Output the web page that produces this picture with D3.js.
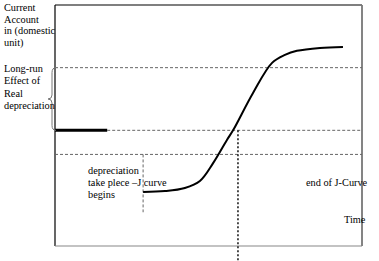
<!DOCTYPE html>
<html>
<head>
<meta charset="utf-8">
<script src="https://cdn.jsdelivr.net/npm/d3@7"></script>
<style>
  body { margin: 0; background: #fff; }
</style>
</head>
<body>
<div id="chart"></div>
<script>
// time (abstract units) and current account (abstract units) along the J-curve
var curveTime  = [2.87, 3.58, 4.23, 4.72, 5.15, 5.60, 5.80, 6.45, 7.07, 7.49, 7.88, 8.63, 9.38];
var curveValue = [-2.56, -2.52, -2.39, -2.10, -1.36, -0.40, 0.0, 1.55, 2.80, 3.13, 3.30, 3.42, 3.46];

// reference levels and times
var initialLevel = 0;      // current account before depreciation
var longRunLevel = 2.6;    // long run level
var lowLevel = -1.0;       // lower dashed guide
var initialEnd = 1.7;      // end of the thick initial segment
var deprTime = 2.87;       // depreciation takes place
var crossTime = 5.96;      // curve returns to initial level

var yLabelLines = ["Current", "Account", "in (domestic", "unit)"];
var braceLines = ["Long-run", "Effect of", "Real", "depreciation"];
var deprLines = ["depreciation", "take plece \u2013J curve", "begins"];

var W = 379, H = 261;
var svg = d3.select("#chart").append("svg")
    .attr("width", W)
    .attr("height", H)
    .attr("font-family", "'Liberation Serif', 'DejaVu Serif', serif")
    .attr("font-size", "10.3px");

var x = d3.scaleLinear().domain([0, 10]).range([55, 362]);
var y = d3.scaleLinear().domain([-4.8, 5.2]).range([246, 5]);

// frame
svg.append("line")
    .attr("x1", x(0)).attr("x2", x(10)).attr("y1", y(5.2)).attr("y2", y(5.2))
    .attr("stroke", "#000").attr("stroke-width", 1.2);
svg.append("line")
    .attr("x1", x(0)).attr("x2", x(0)).attr("y1", y(5.2)).attr("y2", y(-4.8))
    .attr("stroke", "#000").attr("stroke-width", 1.2);
svg.append("line")
    .attr("x1", x(10)).attr("x2", x(10)).attr("y1", y(5.2)).attr("y2", y(-4.8))
    .attr("stroke", "#777").attr("stroke-width", 1.8);
svg.append("line")
    .attr("x1", x(0)).attr("x2", x(10)).attr("y1", y(-4.8)).attr("y2", y(-4.8))
    .attr("stroke", "#888").attr("stroke-width", 1.2);

// dashed guides
var dash = "3,2";
svg.append("line")
    .attr("x1", x(0)).attr("x2", x(10)).attr("y1", y(longRunLevel)).attr("y2", y(longRunLevel))
    .attr("stroke", "#666").attr("stroke-dasharray", dash);
svg.append("line")
    .attr("x1", x(initialEnd)).attr("x2", x(10)).attr("y1", y(initialLevel)).attr("y2", y(initialLevel))
    .attr("stroke", "#666").attr("stroke-dasharray", dash);
svg.append("line")
    .attr("x1", x(0)).attr("x2", x(10)).attr("y1", y(lowLevel)).attr("y2", y(lowLevel))
    .attr("stroke", "#666").attr("stroke-dasharray", dash);
svg.append("line")
    .attr("x1", x(deprTime)).attr("x2", x(deprTime)).attr("y1", y(lowLevel)).attr("y2", y(-3.4))
    .attr("stroke", "#666").attr("stroke-dasharray", dash);
svg.append("line")
    .attr("x1", x(crossTime)).attr("x2", x(crossTime)).attr("y1", y(initialLevel)).attr("y2", H)
    .attr("stroke", "#111").attr("stroke-width", 1.5).attr("stroke-dasharray", "2,2");

// initial thick segment
svg.append("line")
    .attr("x1", x(0)).attr("x2", x(initialEnd)).attr("y1", y(initialLevel)).attr("y2", y(initialLevel))
    .attr("stroke", "#000").attr("stroke-width", 3);

// J-curve
var pts = curveTime.map(function(t, i) { return [t, curveValue[i]]; });
var line = d3.line()
    .x(function(d) { return x(d[0]); })
    .y(function(d) { return y(d[1]); })
    .curve(d3.curveCatmullRom);
svg.append("path")
    .datum(pts)
    .attr("d", line)
    .attr("fill", "none")
    .attr("stroke", "#000")
    .attr("stroke-width", 2);

// brace
var bTop = y(longRunLevel), bBot = y(initialLevel), bMid = (bTop + bBot) / 2;
var bx = x(0) - 2;
svg.append("path")
    .attr("d", "M" + (bx + 3) + "," + bTop +
      " Q" + (bx - 1) + "," + bTop + " " + (bx - 1) + "," + (bTop + 5) +
      " L" + (bx - 1) + "," + (bMid - 4) +
      " Q" + (bx - 1) + "," + bMid + " " + (bx - 5) + "," + bMid +
      " Q" + (bx - 1) + "," + bMid + " " + (bx - 1) + "," + (bMid + 4) +
      " L" + (bx - 1) + "," + (bBot - 5) +
      " Q" + (bx - 1) + "," + bBot + " " + (bx + 3) + "," + bBot)
    .attr("fill", "none")
    .attr("stroke", "#777")
    .attr("stroke-width", 1);

// labels
svg.append("g").selectAll("text").data(yLabelLines).enter().append("text")
    .attr("x", 4).attr("y", function(d, i) { return 11 + i * 11.5; })
    .attr("fill", "#000")
    .text(function(d) { return d; });
svg.append("g").selectAll("text").data(braceLines).enter().append("text")
    .attr("x", 4).attr("y", function(d, i) { return 72 + i * 12.4; })
    .attr("fill", "#000")
    .text(function(d) { return d; });
svg.append("g").selectAll("text").data(deprLines).enter().append("text")
    .attr("x", 88).attr("y", function(d, i) { return 174 + i * 12; })
    .attr("fill", "#000")
    .text(function(d) { return d; });
svg.append("text").attr("x", 306).attr("y", 186).attr("fill", "#000").text("end of J-Curve");
svg.append("text").attr("x", 344).attr("y", 223).attr("fill", "#000").text("Time");
</script>
</body>
</html>
